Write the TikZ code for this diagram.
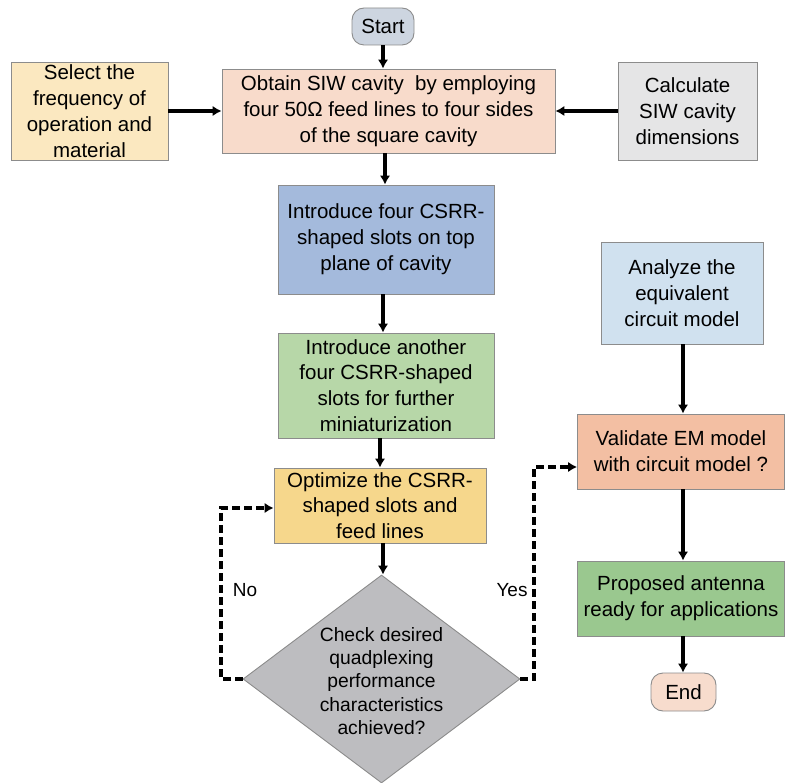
\documentclass[tikz,border=0pt]{standalone}
\usepackage{fontspec}
\setmainfont{Liberation Sans}
\usetikzlibrary{arrows.meta,shapes.geometric}
\definecolor{cstart}{HTML}{CDD5E0}
\definecolor{csel}{HTML}{FBE8C0}
\definecolor{cobt}{HTML}{F8DBCB}
\definecolor{ccalc}{HTML}{E5E5E6}
\definecolor{cblue}{HTML}{A4BADC}
\definecolor{cgreen}{HTML}{B7D7A8}
\definecolor{copt}{HTML}{F6D78C}
\definecolor{cdia}{HTML}{BDBDC0}
\definecolor{cana}{HTML}{D0E1EF}
\definecolor{cval}{HTML}{F3BFA3}
\definecolor{cprop}{HTML}{9AC88F}
\definecolor{cend}{HTML}{F7DCCD}
\definecolor{cborder}{HTML}{8C8C8C}
\tikzset{
  box/.style={draw=cborder, line width=0.9pt, rectangle, align=center, inner sep=0pt,
    font=\fontsize{20.5}{25.8}\selectfont},
  term/.style={box, rounded corners=12pt},
  arr/.style={line width=3.1pt, -{Latex[length=9pt,width=10.5pt]}},
  darr/.style={arr, dash pattern=on 8pt off 4pt},
  lbl/.style={font=\fontsize{19}{22}\selectfont, inner sep=0pt}
}
\begin{document}
\begin{tikzpicture}[x=1pt,y=-1pt]
\useasboundingbox (0,0) rectangle (785,783);
\coordinate (xa) at (385,0);
\coordinate (xb) at (383,0);
\coordinate (xc) at (380,0);
\coordinate (xr) at (683,0);
\node[term, fill=cstart, minimum width=62pt, minimum height=37pt] (start) at (383,26.5) {Start};
\node[box, fill=csel, minimum width=157pt, minimum height=98pt] (sel) at (89.5,111) {Select the\\frequency of\\operation and\\material};
\node[box, fill=cobt, minimum width=333pt, minimum height=84pt] (obt) at (388.5,111) {Obtain SIW cavity \ by employing\\four 50Ω feed lines to four sides\\of the square cavity};
\node[box, fill=ccalc, minimum width=139pt, minimum height=98pt] (calc) at (687.5,111) {Calculate\\SIW cavity\\dimensions};
\node[box, fill=cblue, minimum width=216pt, minimum height=109pt] (c1) at (386,239.5) {Introduce four CSRR-\\shaped slots on top\\plane of cavity};
\node[box, fill=cgreen, minimum width=216pt, minimum height=105pt] (c2) at (386,385.5) {Introduce another\\four CSRR-shaped\\slots for further\\miniaturization};
\node[box, fill=copt, minimum width=212pt, minimum height=75pt] (opt) at (380,505.5) {Optimize the CSRR-\\shaped slots and\\feed lines};
\node[draw=cborder, line width=0.9pt, fill=cdia, diamond, minimum width=277pt, minimum height=208pt, inner sep=0pt] (dia) at (381.5,679) {};
\node[align=center, inner sep=0pt, font=\fontsize{19.3}{23.2}\selectfont] (diat) at (381.5,681) {Check desired\\quadplexing\\performance\\characteristics\\achieved?};
\node[box, fill=cana, minimum width=162pt, minimum height=102pt] (ana) at (682,293) {Analyze the\\equivalent\\circuit model};
\node[box, fill=cval, minimum width=207pt, minimum height=75pt] (val) at (681,451.5) {Validate EM model\\with circuit model ?};
\node[box, fill=cprop, minimum width=207pt, minimum height=75pt] (prop) at (681,598.5) {Proposed antenna\\ready for applications};
\node[term, fill=cend, minimum width=65pt, minimum height=38pt] (endn) at (683.5,692) {End};
\node[lbl] (no) at (245,590) {No};
\node[lbl] (yes) at (512,590) {Yes};
\coordinate (nl) at (221,679);
\coordinate (nt) at (221,508);
\coordinate (yr) at (534,679);
\coordinate (yt) at (534,467);
\draw[arr] (start.south) -- (start.south |- obt.north);
\draw[arr] (sel.east) -- (obt.west);
\draw[arr] (calc.west) -- (obt.east);
\draw[arr] (obt.south -| xa) -- (c1.north -| xa);
\draw[arr] (c1.south -| xb) -- (c2.north -| xb);
\draw[arr] (c2.south -| xc) -- (opt.north -| xc);
\draw[arr] (opt.south -| xb) -- (dia.north -| xb);
\draw[darr] (dia.west) -- (nl) -- (nt) -- (nt -| opt.west);
\draw[darr] (dia.east) -- (yr) -- (yt) -- (yt -| val.west);
\draw[arr] (ana.south -| xr) -- (val.north -| xr);
\draw[arr] (val.south -| xr) -- (prop.north -| xr);
\draw[arr] (prop.south -| xr) -- (endn.north -| xr);
\end{tikzpicture}
\end{document}
